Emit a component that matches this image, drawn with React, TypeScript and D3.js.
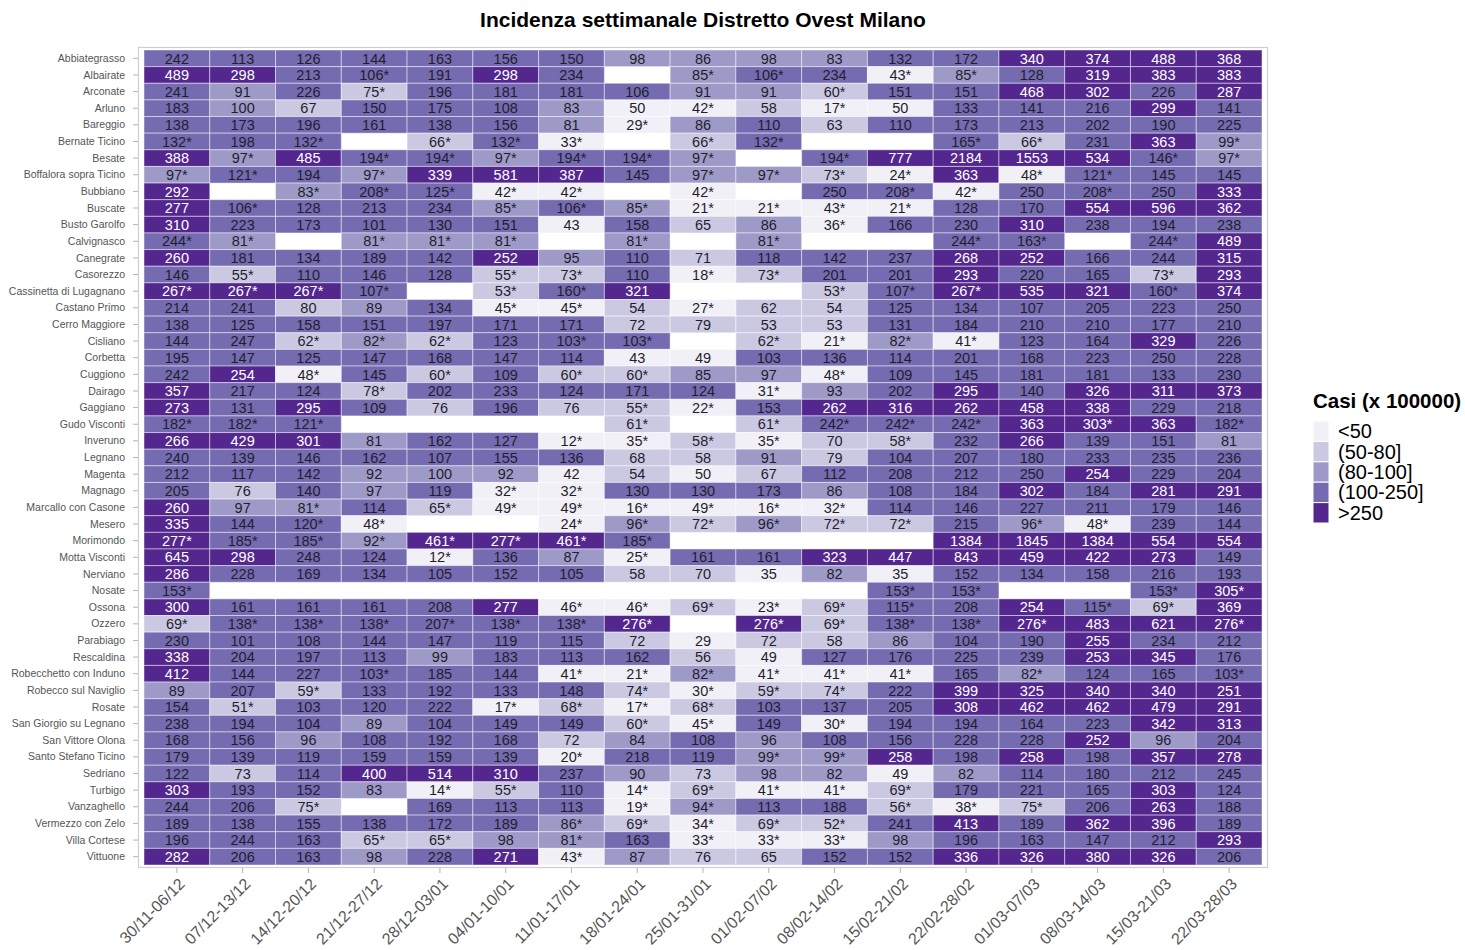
import React from "react";
import * as d3 from "d3";

const weeks = [
  "30/11-06/12", "07/12-13/12", "14/12-20/12", "21/12-27/12", "28/12-03/01",
  "04/01-10/01", "11/01-17/01", "18/01-24/01", "25/01-31/01", "01/02-07/02",
  "08/02-14/02", "15/02-21/02", "22/02-28/02", "01/03-07/03", "08/03-14/03",
  "15/03-21/03", "22/03-28/03",
];

const comuni = [
  "Abbiategrasso", "Albairate", "Arconate", "Arluno", "Bareggio", "Bernate Ticino",
  "Besate", "Boffalora sopra Ticino", "Bubbiano", "Buscate", "Busto Garolfo",
  "Calvignasco", "Canegrate", "Casorezzo", "Cassinetta di Lugagnano", "Castano Primo",
  "Cerro Maggiore", "Cisliano", "Corbetta", "Cuggiono", "Dairago", "Gaggiano",
  "Gudo Visconti", "Inveruno", "Legnano", "Magenta", "Magnago", "Marcallo con Casone",
  "Mesero", "Morimondo", "Motta Visconti", "Nerviano", "Nosate", "Ossona", "Ozzero",
  "Parabiago", "Rescaldina", "Robecchetto con Induno", "Robecco sul Naviglio", "Rosate",
  "San Giorgio su Legnano", "San Vittore Olona", "Santo Stefano Ticino", "Sedriano",
  "Turbigo", "Vanzaghello", "Vermezzo con Zelo", "Villa Cortese", "Vittuone",
];

// one list per comune, in week order; "" = no data
const incidenza: string[][] = [
  ["242","113","126","144","163","156","150","98","86","98","83","132","172","340","374","488","368"],
  ["489","298","213","106*","191","298","234","","85*","106*","234","43*","85*","128","319","383","383"],
  ["241","91","226","75*","196","181","181","106","91","91","60*","151","151","468","302","226","287"],
  ["183","100","67","150","175","108","83","50","42*","58","17*","50","133","141","216","299","141"],
  ["138","173","196","161","138","156","81","29*","86","110","63","110","173","213","202","190","225"],
  ["132*","198","132*","","66*","132*","33*","","66*","132*","","","165*","66*","231","363","99*"],
  ["388","97*","485","194*","194*","97*","194*","194*","97*","","194*","777","2184","1553","534","146*","97*"],
  ["97*","121*","194","97*","339","581","387","145","97*","97*","73*","24*","363","48*","121*","145","145"],
  ["292","","83*","208*","125*","42*","42*","","42*","","250","208*","42*","250","208*","250","333"],
  ["277","106*","128","213","234","85*","106*","85*","21*","21*","43*","21*","128","170","554","596","362"],
  ["310","223","173","101","130","151","43","158","65","86","36*","166","230","310","238","194","238"],
  ["244*","81*","","81*","81*","81*","","81*","","81*","","","244*","163*","","244*","489"],
  ["260","181","134","189","142","252","95","110","71","118","142","237","268","252","166","244","315"],
  ["146","55*","110","146","128","55*","73*","110","18*","73*","201","201","293","220","165","73*","293"],
  ["267*","267*","267*","107*","","53*","160*","321","","","53*","107*","267*","535","321","160*","374"],
  ["214","241","80","89","134","45*","45*","54","27*","62","54","125","134","107","205","223","250"],
  ["138","125","158","151","197","171","171","72","79","53","53","131","184","210","210","177","210"],
  ["144","247","62*","82*","62*","123","103*","103*","","62*","21*","82*","41*","123","164","329","226"],
  ["195","147","125","147","168","147","114","43","49","103","136","114","201","168","223","250","228"],
  ["242","254","48*","145","60*","109","60*","60*","85","97","48*","109","145","181","181","133","230"],
  ["357","217","124","78*","202","233","124","171","124","31*","93","202","295","140","326","311","373"],
  ["273","131","295","109","76","196","76","55*","22*","153","262","316","262","458","338","229","218"],
  ["182*","182*","121*","","","","","61*","","61*","242*","242*","242*","363","303*","363","182*"],
  ["266","429","301","81","162","127","12*","35*","58*","35*","70","58*","232","266","139","151","81"],
  ["240","139","146","162","107","155","136","68","58","91","79","104","207","180","233","235","236"],
  ["212","117","142","92","100","92","42","54","50","67","112","208","212","250","254","229","204"],
  ["205","76","140","97","119","32*","32*","130","130","173","86","108","184","302","184","281","291"],
  ["260","97","81*","114","65*","49*","49*","16*","49*","16*","32*","114","146","227","211","179","146"],
  ["335","144","120*","48*","","","24*","96*","72*","96*","72*","72*","215","96*","48*","239","144"],
  ["277*","185*","185*","92*","461*","277*","461*","185*","","","","","1384","1845","1384","554","554"],
  ["645","298","248","124","12*","136","87","25*","161","161","323","447","843","459","422","273","149"],
  ["286","228","169","134","105","152","105","58","70","35","82","35","152","134","158","216","193"],
  ["153*","","","","","","","","","","","153*","153*","","","153*","305*"],
  ["300","161","161","161","208","277","46*","46*","69*","23*","69*","115*","208","254","115*","69*","369"],
  ["69*","138*","138*","138*","207*","138*","138*","276*","","276*","69*","138*","138*","276*","483","621","276*"],
  ["230","101","108","144","147","119","115","72","29","72","58","86","104","190","255","234","212"],
  ["338","204","197","113","99","183","113","162","56","49","127","176","225","239","253","345","176"],
  ["412","144","227","103*","185","144","41*","21*","82*","41*","41*","41*","165","82*","124","165","103*"],
  ["89","207","59*","133","192","133","148","74*","30*","59*","74*","222","399","325","340","340","251"],
  ["154","51*","103","120","222","17*","68*","17*","68*","103","137","205","308","462","462","479","291"],
  ["238","194","104","89","104","149","149","60*","45*","149","30*","194","194","164","223","342","313"],
  ["168","156","96","108","192","168","72","84","108","96","108","156","228","228","252","96","204"],
  ["179","139","119","159","159","139","20*","218","119","99*","99*","258","198","258","198","357","278"],
  ["122","73","114","400","514","310","237","90","73","98","82","49","82","114","180","212","245"],
  ["303","193","152","83","14*","55*","110","14*","69*","41*","41*","69*","179","221","165","303","124"],
  ["244","206","75*","","169","113","113","19*","94*","113","188","56*","38*","75*","206","263","188"],
  ["189","138","155","138","172","189","86*","69*","34*","69*","52*","241","413","189","362","396","189"],
  ["196","244","163","65*","65*","98","81*","163","33*","33*","33*","98","196","163","147","212","293"],
  ["282","206","163","98","228","271","43*","87","76","65","152","152","336","326","380","326","206"],
];

const classLabels = ["<50", "(50-80]", "(80-100]", "(100-250]", ">250"];
const classBreaks = [50, 80, 100, 250];
const classColors = ["#f2f0f7", "#cbc9e2", "#9e9ac8", "#756bb1", "#54278f"];

const FONT = "'Liberation Sans', Arial, Helvetica, sans-serif";

export default function App() {
  const W = 1465, H = 950;
  const x0 = 144, x1 = 1262, y0 = 50, y1 = 865;

  const x = d3.scaleBand<string>().domain(weeks).range([x0, x1]).padding(0);
  const y = d3.scaleBand<string>().domain(comuni).range([y0, y1]).padding(0);

  // right-closed classes; values <= 50 fall in the lowest class
  const color = (v: number) => classColors[d3.bisectLeft(classBreaks, v)];

  const cells: { r: string; c: string; label: string; v: number }[] = [];
  incidenza.forEach((row, ri) => {
    row.forEach((lab, ci) => {
      if (lab === "") return;
      cells.push({ r: comuni[ri], c: weeks[ci], label: lab, v: parseFloat(lab.replace("*", "")) });
    });
  });

  const bw = x.bandwidth();
  const bh = y.bandwidth();

  const legendX = 1313, legendY = 421, keyW = 16, keyH = 20.4;

  return (
    <svg width={W} height={H} style={{ display: "block", position: "absolute", left: 0, top: 0 }} fontFamily={FONT}>
      <rect x={0} y={0} width={W} height={H} fill="#ffffff" />
      <text x={(x0 + x1) / 2} y={27} textAnchor="middle" fontSize={21} fontWeight="bold" fill="#000">
        Incidenza settimanale Distretto Ovest Milano
      </text>

      {/* panel */}
      <rect x={138.5} y={47.5} width={1129} height={820} fill="#ffffff" stroke="#cfcfcf" strokeWidth={1.2} />

      {cells.map((d, i) => (
        <rect key={"t" + i} x={x(d.c)!} y={y(d.r)!} width={bw} height={bh}
          fill={color(d.v)} stroke="#ffffff" strokeOpacity={0.45} strokeWidth={1} />
      ))}
      {cells.map((d, i) => (
        <text key={"l" + i} x={x(d.c)! + bw / 2} y={y(d.r)! + bh / 2 + 5.2} textAnchor="middle"
          fontSize={14.5} fill={d.v > 250 ? "#ffffff" : "#1f1f2e"}>
          {d.label}
        </text>
      ))}

      {/* y axis */}
      {comuni.map((c) => (
        <g key={"y" + c}>
          <line x1={133} x2={138} y1={y(c)! + bh / 2} y2={y(c)! + bh / 2} stroke="#b3b3b3" strokeWidth={1} />
          <text x={125} y={y(c)! + bh / 2 + 3.6} textAnchor="end" fontSize={10.5} fill="#555">{c}</text>
        </g>
      ))}

      {/* x axis */}
      {weeks.map((w) => {
        const cx = x(w)! + bw / 2;
        return (
          <g key={"x" + w}>
            <line x1={cx} x2={cx} y1={868} y2={873} stroke="#b3b3b3" strokeWidth={1} />
            <text transform={`translate(${cx + 9},${885}) rotate(-45)`} textAnchor="end" fontSize={16} fill="#555">
              {w}
            </text>
          </g>
        );
      })}

      {/* legend */}
      <text x={legendX} y={408} fontSize={20.5} fontWeight="bold" fill="#000">Casi (x 100000)</text>
      {classLabels.map((lab, i) => (
        <g key={"k" + i}>
          <rect x={legendX} y={legendY + i * keyH} width={keyW} height={keyH} fill={classColors[i]} stroke="#ffffff" strokeWidth={1} />
          <text x={legendX + keyW + 9} y={legendY + i * keyH + keyH / 2 + 7} fontSize={20} fill="#000">{lab}</text>
        </g>
      ))}
    </svg>
  );
}
